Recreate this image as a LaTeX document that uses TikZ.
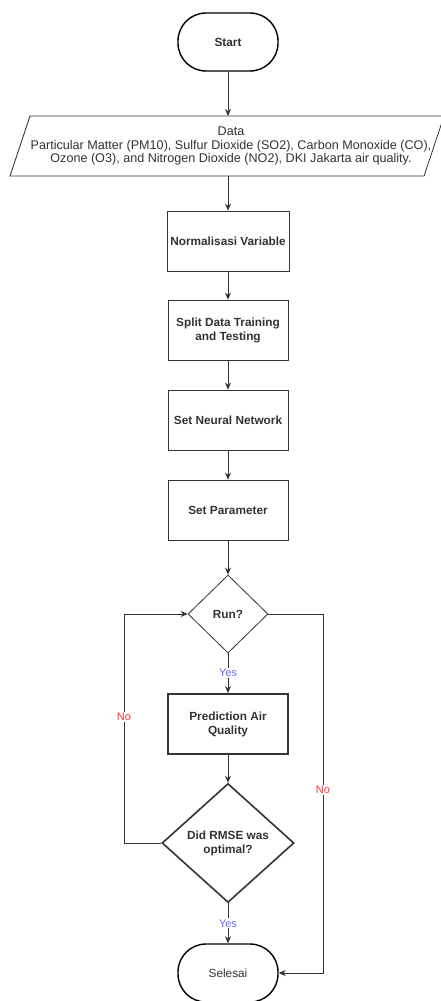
\documentclass[tikz,border=0pt]{standalone}
\usepackage{fontspec}
\setmainfont{Liberation Sans}
\usetikzlibrary{arrows.meta,positioning,shapes.geometric,calc}
\definecolor{txtgray}{HTML}{333333}
\definecolor{yesblue}{HTML}{6666FF}
\definecolor{nored}{HTML}{FF3333}

\tikzset{
	terminal/.style={draw, line width=1.4pt, rounded corners=28pt, minimum width=100pt, minimum height=58pt, text=txtgray, font=\fontsize{11.8}{13.5}\selectfont},
	process/.style={draw=black!80, line width=0.8pt, minimum width=120pt, minimum height=60pt, align=center, text=txtgray, font=\bfseries\fontsize{11.8}{14}\selectfont},
	decision/.style={draw=black!80, line width=0.8pt, diamond, aspect=1, inner sep=0pt, text=txtgray, align=center, font=\bfseries\fontsize{11.8}{14}\selectfont},
	flow/.style={draw=black!80, line width=0.8pt, -{Stealth[length=7pt,width=6pt]}},
	yeslabel/.style={fill=white, text=yesblue, font=\fontsize{11}{12}\selectfont, inner sep=1pt},
	nolabel/.style={fill=white, text=nored, font=\fontsize{11}{12}\selectfont, inner sep=1pt},
}

\begin{document}
\begin{tikzpicture}[x=1pt, y=-1pt]
		%%%%% FRAME %%%%%
		\useasboundingbox[fill=white] (0, 0) rectangle (441, 1001);
		
		%%%%% NODES %%%%%
		\node[terminal, font=\bfseries\fontsize{11.8}{13.5}\selectfont] (start) at (228, 42) {Start};
		
		\node[minimum width=400pt, minimum height=60pt, align=center, text=txtgray, font=\fontsize{12.6}{13.6}\selectfont] (data) at (231, 146) {Data\\Particular Matter (PM10), Sulfur Dioxide (SO2), Carbon Monoxide (CO),\\Ozone (O3), and Nitrogen Dioxide (NO2), DKI Jakarta air quality.};
		\draw[black!80, line width=0.8pt] (30, 116) -- (444, 116) -- (424, 176) -- (10, 176) -- cycle;
		
		\node[process] (norm) at (228, 241) {Normalisasi Variable};
		\node[process] (split) at (228, 330) {Split Data Training\\and Testing};
		\node[process] (net) at (228, 420) {Set Neural Network};
		\node[process] (param) at (228, 510) {Set Parameter};
		
		\node[decision, minimum width=80pt, minimum height=78pt] (run) at (228, 614) {Run?};
		\node[process, line width=1.8pt] (pred) at (228, 724) {Prediction Air\\Quality};
		\node[decision, line width=1.6pt, minimum width=132pt, minimum height=119pt] (rmse) at (228, 843) {Did RMSE was\\optimal?};
		
		\node[terminal] (stop) at (228, 973) {Selesai};
		
		\coordinate (leftcorner) at (124, 843);
		\coordinate (lefttop) at (124, 614);
		\coordinate (righttop) at (323, 614);
		\coordinate (rightcorner) at (323, 973);
		
		%%%%% CONNECTORS %%%%%
		\draw[flow] (start) -- (start |- 0, 116);
		\draw[flow] (start |- 0, 176) -- (norm);
		\draw[flow] (norm) -- (split);
		\draw[flow] (split) -- (net);
		\draw[flow] (net) -- (param);
		\draw[flow] (param) -- (run);
		
		\draw[flow] (run) -- node[yeslabel, pos=0.5] {Yes} (pred);
		\draw[flow] (pred) -- (rmse);
		\draw[flow] (rmse) -- node[yeslabel, pos=0.5] {Yes} (stop);
		
		\draw[flow] (rmse.west) -- (leftcorner) -- node[nolabel, pos=0.55] {No} (lefttop) -- (run.west);
		\draw[flow] (run.east) -- (righttop) -- node[nolabel, pos=0.49] {No} (rightcorner) -- (stop.east);
		
		%%%%% END %%%%%
	\end{tikzpicture}
\end{document}
